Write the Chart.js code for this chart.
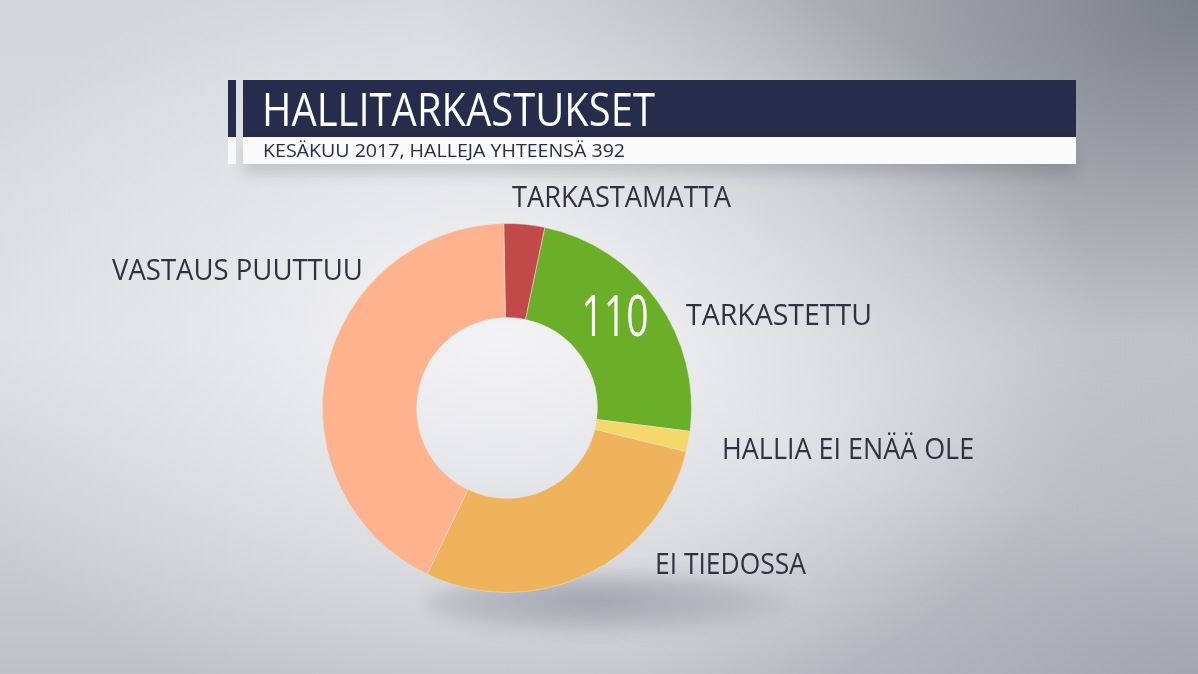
<!DOCTYPE html>
<html lang="fi">
<head>
    <meta charset="UTF-8">
    <title>Hallitarkastukset</title>
    <script src="https://cdn.jsdelivr.net/npm/chart.js"></script>
    <style>
        html, body {
            margin: 0;
            padding: 0;
        }

        body {
            width: 1198px;
            height: 674px;
            overflow: hidden;
            position: relative;
            font-family: 'Open Sans', sans-serif;
            background:
                radial-gradient(ellipse 600px 400px at 500px 340px, rgba(244,244,246,0.95) 0%, rgba(238,238,241,0.55) 50%, rgba(238,238,241,0) 100%),
                radial-gradient(ellipse 760px 520px at 1198px 0px, rgba(122,128,138,1) 0%, rgba(122,128,138,0.35) 60%, rgba(122,128,138,0) 100%),
                radial-gradient(ellipse 560px 340px at 1198px 674px, rgba(150,155,165,0.7) 0%, rgba(150,155,165,0) 100%),
                linear-gradient(to bottom, #d4d6d9 0%, #dcdee1 50%, #bec1c8 100%);
        }

        .bar-left {
            position: absolute;
            left: 228px;
            width: 8px;
        }

        #titleBar {
            position: absolute;
            left: 243px;
            top: 80px;
            width: 833px;
            height: 57px;
            background: #262c4b;
        }

        #subBar {
            position: absolute;
            left: 243px;
            top: 137px;
            width: 833px;
            height: 27px;
            background: #fafafa;
            box-shadow: 0 10px 14px rgba(60, 65, 80, 0.18);
        }

        #title {
            position: absolute;
            left: 262px;
            top: 80px;
            height: 57px;
            line-height: 57px;
            color: #ffffff;
            font-size: 45px;
            font-weight: 500;
            transform-origin: left center;
            white-space: nowrap;
        }

        #subtitle {
            position: absolute;
            left: 263px;
            top: 137px;
            height: 27px;
            line-height: 27px;
            color: #262c4b;
            font-size: 19px;
            transform-origin: left center;
            white-space: nowrap;
        }

        #shadow {
            position: absolute;
            left: 425px;
            top: 572px;
            width: 370px;
            height: 64px;
            border-radius: 50%;
            background: radial-gradient(ellipse at 45% 45%, rgba(100,105,120,0.45) 0%, rgba(100,105,120,0.2) 50%, rgba(100,105,120,0) 75%);
            filter: blur(7px);
        }

        #chartBox {
            position: absolute;
            left: 322px;
            top: 223px;
            width: 370px;
            height: 370px;
        }

        .seg-label {
            position: absolute;
            color: #2e3242;
            font-size: 29px;
            line-height: 30px;
            white-space: nowrap;
            transform-origin: left center;
        }
    </style>
</head>
<body>

    <div class="bar-left" style="top:80px;height:57px;background:#262c4b;"></div>
    <div class="bar-left" style="top:137px;height:27px;background:#fafafa;"></div>
    <div id="titleBar"></div>
    <div id="subBar"></div>
    <div id="title">HALLITARKASTUKSET</div>
    <div id="subtitle">KESÄKUU 2017, HALLEJA YHTEENSÄ 392</div>

    <div id="shadow"></div>
    <div id="chartBox"><canvas id="donut"></canvas></div>

    <script>
        // Data
        const categories = ['TARKASTAMATTA', 'TARKASTETTU', 'HALLIA EI ENÄÄ OLE', 'EI TIEDOSSA', 'VASTAUS PUUTTUU'];
        const hallCounts = [14, 93, 7, 111, 167];
        const valueLabels = ['', '110', '', '', ''];
        const segmentColors = ['#c14a48', '#6aaf27', '#f4d96a', '#eeb35b', '#ffb28e'];

        // where the category names sit (left x, middle y)
        const labelSpots = [
            [512, 197],
            [686, 315],
            [722, 449],
            [655, 564],
            [112, 270]
        ];

        // fit text to a width by squeezing it
        const squeeze = (el, targetWidth) => {
            const w = el.getBoundingClientRect().width;
            el.style.transform = 'scaleX(' + (targetWidth / w).toFixed(3) + ')';
        };

        const labelWidths = [219, 186, 252, 151, 251];
        categories.forEach((name, i) => {
            const div = document.createElement('div');
            div.className = 'seg-label';
            div.textContent = name;
            div.style.left = labelSpots[i][0] + 'px';
            div.style.top = (labelSpots[i][1] - 16) + 'px';
            document.body.appendChild(div);
            squeeze(div, labelWidths[i]);
        });

        squeeze(document.getElementById('title'), 393);
        squeeze(document.getElementById('subtitle'), 362);

        // value text inside the arc
        const valueText = {
            id: 'valueText',
            afterDatasetsDraw(chart) {
                const ctx = chart.ctx;
                const meta = chart.getDatasetMeta(0);
                meta.data.forEach((arc, i) => {
                    if (!valueLabels[i]) return;
                    const pos = arc.tooltipPosition();
                    ctx.save();
                    ctx.translate(pos.x - 4, pos.y - 8);
                    ctx.scale(0.7, 1);
                    ctx.fillStyle = '#ffffff';
                    ctx.font = '400 56px "Open Sans"';
                    ctx.textAlign = 'center';
                    ctx.textBaseline = 'middle';
                    ctx.fillText(valueLabels[i], 0, 0);
                    ctx.restore();
                });
            }
        };

        const donutCtx = document.getElementById('donut').getContext('2d');
        new Chart(donutCtx, {
            type: 'doughnut',
            data: {
                labels: categories,
                datasets: [{
                    data: hallCounts,
                    backgroundColor: segmentColors,
                    borderColor: 'rgba(235,225,220,0.5)',
                    borderWidth: 1
                }]
            },
            options: {
                responsive: true,
                maintainAspectRatio: false,
                animation: false,
                rotation: -1,
                cutout: '49%',
                layout: { padding: 0 },
                plugins: {
                    legend: { display: false },
                    tooltip: { enabled: false }
                }
            },
            plugins: [valueText]
        });
    </script>
</body>
</html>
